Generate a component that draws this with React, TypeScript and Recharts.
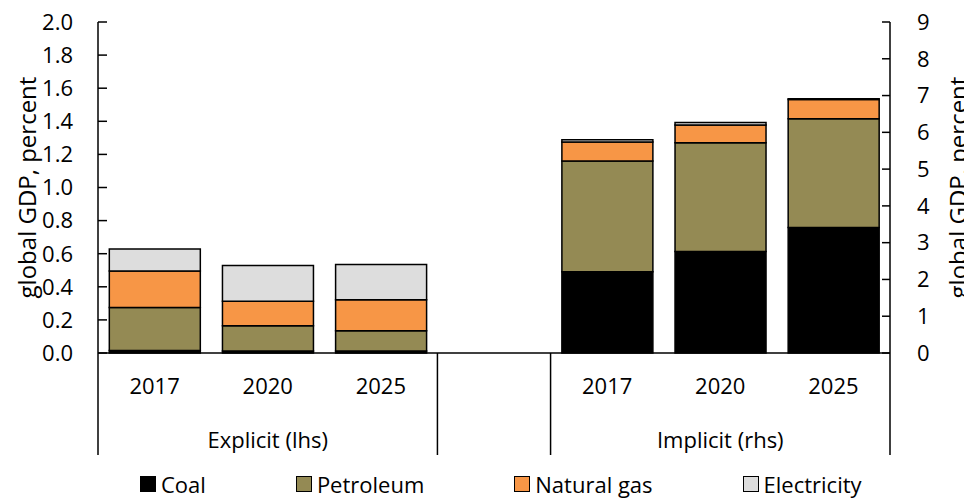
import React from 'react';
import { BarChart, Bar, XAxis, YAxis, Legend } from 'recharts';

// Category slots: explicit years, an empty spacer, implicit years
const years = ['2017', '2020', '2025', '', '2017', '2020', '2025'];
const groupLabels = ['Explicit (lhs)', 'Implicit (rhs)'];

// Explicit subsidies, percent of global GDP (left axis)
const explicitCoal = [0.015, 0.012, 0.012];
const explicitPetroleum = [0.26, 0.153, 0.123];
const explicitGas = [0.22, 0.147, 0.187];
const explicitElectricity = [0.133, 0.217, 0.213];

// Implicit subsidies, percent of global GDP (right axis)
const implicitCoal = [2.21, 2.76, 3.41];
const implicitPetroleum = [3.01, 2.96, 2.96];
const implicitGas = [0.52, 0.48, 0.52];
const implicitElectricity = [0.06, 0.07, 0.02];

const leftTicks = [0, 0.2, 0.4, 0.6, 0.8, 1.0, 1.2, 1.4, 1.6, 1.8, 2.0];
const rightTicks = [0, 1, 2, 3, 4, 5, 6, 7, 8, 9];

const series = [
  { name: 'Coal', color: '#000000' },
  { name: 'Petroleum', color: '#948A54' },
  { name: 'Natural gas', color: '#F79646' },
  { name: 'Electricity', color: '#DDDDDD' },
];

const data = years.map((year, i) => {
  const e = i < 3 ? i : -1;
  const m = i > 3 ? i - 4 : -1;
  return {
    key: i,
    year,
    eCoal: e >= 0 ? explicitCoal[e] : 0,
    ePetroleum: e >= 0 ? explicitPetroleum[e] : 0,
    eGas: e >= 0 ? explicitGas[e] : 0,
    eElectricity: e >= 0 ? explicitElectricity[e] : 0,
    iCoal: m >= 0 ? implicitCoal[m] : 0,
    iPetroleum: m >= 0 ? implicitPetroleum[m] : 0,
    iGas: m >= 0 ? implicitGas[m] : 0,
    iElectricity: m >= 0 ? implicitElectricity[m] : 0,
  };
});

const FONT = '"Open Sans", sans-serif';
const FS = 22;
const HALF_BAND = (882 - 90) / years.length / 2;

function CategoryTick(props: any) {
  const { x, y, payload } = props;
  const i = payload.index;
  const lines: number[] = [];
  if (i === 0) lines.push(x - HALF_BAND);
  if (i === 3) lines.push(x - HALF_BAND, x + HALF_BAND);
  if (i === 6) lines.push(x + HALF_BAND);
  return (
    <g>
      <text x={x} y={y + 41} textAnchor="middle" fontSize={FS} fill="#000" fontFamily={FONT}>
        {years[i]}
      </text>
      {lines.map((lx, k) => (
        <line key={k} x1={lx} x2={lx} y1={y} y2={y + 102} stroke="#000" strokeWidth={1.5} />
      ))}
      {(i === 1 || i === 5) && (
        <text x={x} y={y + 95} textAnchor="middle" fontSize={FS} fill="#000" fontFamily={FONT}>
          {i === 1 ? groupLabels[0] : groupLabels[1]}
        </text>
      )}
    </g>
  );
}

// rotated axis title, centred on the axis box
function AxisTitle(props: any) {
  const { viewBox, value, shift } = props;
  const cx = viewBox.x + viewBox.width / 2 + shift;
  const cy = viewBox.y + viewBox.height / 2;
  return (
    <text
      x={cx}
      y={cy}
      transform={`rotate(-90, ${cx}, ${cy})`}
      textAnchor="middle"
      dominantBaseline="central"
      fontSize={24}
      fill="#000"
      fontFamily={FONT}
    >
      {value}
    </text>
  );
}

function LegendContent() {
  return (
    <div style={{ display: 'flex', gap: 90, alignItems: 'center', fontFamily: FONT, fontSize: FS, whiteSpace: 'nowrap', lineHeight: '22px' }}>
      {series.map((s) => (
        <div key={s.name} style={{ display: 'flex', alignItems: 'center' }}>
          <span style={{ display: 'inline-block', width: 14, height: 14, background: s.color, border: '1px solid #000', marginRight: 5 }} />
          <span>{s.name}</span>
        </div>
      ))}
    </div>
  );
}

const tickStyle = { fill: '#000', fontSize: FS, fontFamily: FONT };

export default function App() {
  return (
    <div style={{ width: 964, height: 491 }}>
      <style>{'.recharts-surface { overflow: visible; }'}</style>
      <BarChart
        width={964}
        height={491}
        data={data}
        margin={{ top: 14, right: 0, left: 0, bottom: 36 }}
        barCategoryGap="10%"
        style={{ fontFamily: FONT }}
      >
        <XAxis
          dataKey="key"
          height={110}
          interval={0}
          tickLine={false}
          tickSize={0}
          tickMargin={0}
          axisLine={{ stroke: '#000', strokeWidth: 1.5 }}
          tick={<CategoryTick />}
        />
        <YAxis
          yAxisId="l"
          orientation="left"
          width={90}
          domain={[0, 2]}
          ticks={leftTicks}
          interval={0}
          tickFormatter={(v: number) => v.toFixed(1)}
          tickSize={-9}
          tickMargin={34}
          axisLine={{ stroke: '#000', strokeWidth: 1.5 }}
          tickLine={{ stroke: '#000', strokeWidth: 1.5 }}
          tick={tickStyle}
          label={(p: any) => <AxisTitle {...p} value="global GDP, percent" shift={-27} />}
        />
        <YAxis
          yAxisId="r"
          orientation="right"
          width={82}
          domain={[0, 9]}
          ticks={rightTicks}
          interval={0}
          tickSize={-8}
          tickMargin={35}
          axisLine={{ stroke: '#000', strokeWidth: 1.5 }}
          tickLine={{ stroke: '#000', strokeWidth: 1.5 }}
          tick={tickStyle}
          label={(p: any) => <AxisTitle {...p} value="global GDP, percent" shift={26} />}
        />
        <Legend
          layout="horizontal"
          verticalAlign="middle"
          align="center"
          content={<LegendContent />}
          wrapperStyle={{ top: 465, left: 132, width: 780, height: 22 }}
        />
        <Bar yAxisId="l" dataKey="eCoal" stackId="s" fill={series[0].color} stroke="#000" strokeWidth={1.5} isAnimationActive={false} />
        <Bar yAxisId="l" dataKey="ePetroleum" stackId="s" fill={series[1].color} stroke="#000" strokeWidth={1.5} isAnimationActive={false} />
        <Bar yAxisId="l" dataKey="eGas" stackId="s" fill={series[2].color} stroke="#000" strokeWidth={1.5} isAnimationActive={false} />
        <Bar yAxisId="l" dataKey="eElectricity" stackId="s" fill={series[3].color} stroke="#000" strokeWidth={1.5} isAnimationActive={false} />
        <Bar yAxisId="r" dataKey="iCoal" stackId="s" fill={series[0].color} stroke="#000" strokeWidth={1.5} isAnimationActive={false} />
        <Bar yAxisId="r" dataKey="iPetroleum" stackId="s" fill={series[1].color} stroke="#000" strokeWidth={1.5} isAnimationActive={false} />
        <Bar yAxisId="r" dataKey="iGas" stackId="s" fill={series[2].color} stroke="#000" strokeWidth={1.5} isAnimationActive={false} />
        <Bar yAxisId="r" dataKey="iElectricity" stackId="s" fill={series[3].color} stroke="#000" strokeWidth={1.5} isAnimationActive={false} />
      </BarChart>
    </div>
  );
}
